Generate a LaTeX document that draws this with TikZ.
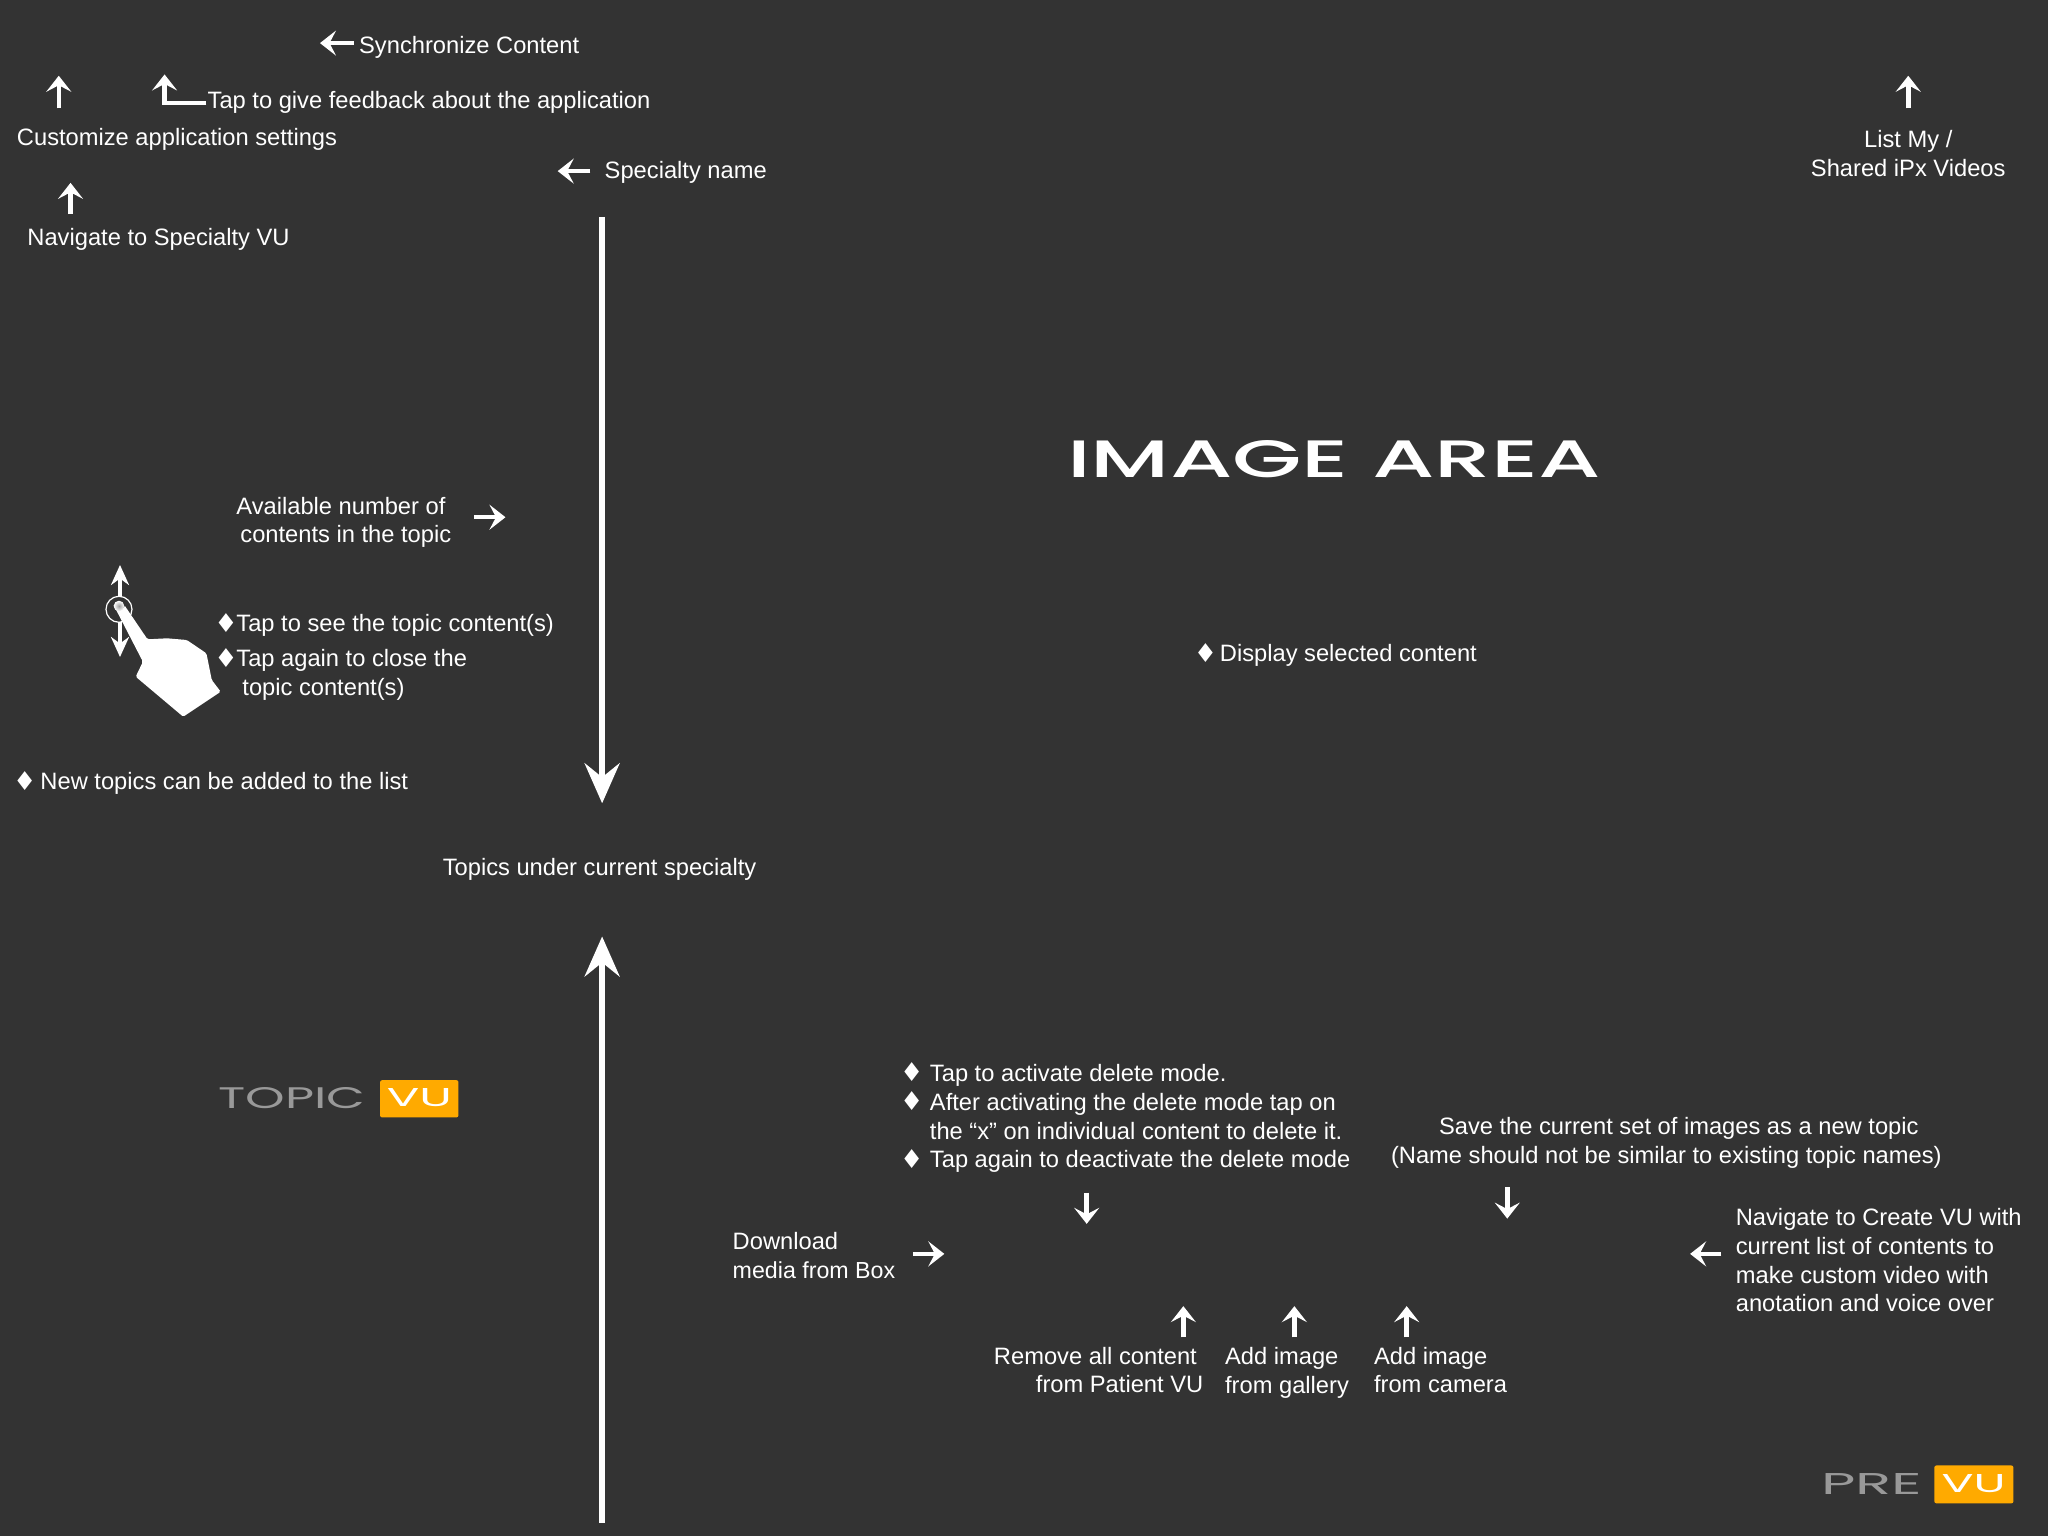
\documentclass[tikz,border=0pt]{standalone}
\usepackage{fontspec}
\usepackage{graphicx}
\usetikzlibrary{arrows.meta}
\setmainfont{Liberation Sans}
\newfontfamily\dejafont{DejaVu Sans}
\newfontfamily\logofont{Poppins Medium}
\newfontfamily\logolight{Poppins}
\definecolor{bgdark}{HTML}{333333}
\definecolor{logoorange}{HTML}{FFAA00}
\definecolor{logogray}{HTML}{999999}
\tikzset{
  txt/.style={text=white,inner sep=0pt,outer sep=0pt,anchor=west,align=left,font=\fontsize{23.7}{28.7}\selectfont},
  ctxt/.style={txt,anchor=center,align=center},
  dia/.style={text=white,inner sep=0pt,outer sep=0pt,anchor=center,font=\dejafont\fontsize{26}{26}\selectfont},
  arr/.style={draw=white,line width=4.5pt,-{Stealth[length=16pt,width=25pt,inset=6.5pt]}},
  bigarr/.style={draw=white,line width=5.5pt,-{Stealth[length=40pt,width=35pt,inset=14pt]}},
  logotxt/.style={inner sep=0pt,outer sep=0pt,anchor=center},
  badge/.style={fill=logoorange,rounded corners=2pt,draw=none}
}
\begin{document}
\begin{tikzpicture}[x=1.30612pt,y=-1.30612pt]
\useasboundingbox (0,0) rectangle (1568,1176);
\fill[bgdark] (0,0) rectangle (1568,1176);
% top labels
\node[txt] (sync) at (275,36) {Synchronize Content};
\node[txt] (feedback) at (159,78) {Tap to give feedback about the application};
\node[txt] (custom) at (13,106.5) {Customize application settings};
\node[txt] (specname) at (463,132) {Specialty name};
\node[txt] (navspec) at (21,183) {Navigate to Specialty VU};
\node[ctxt] (listmy) at (1461,117.5) {List My /\\Shared iPx Videos};
\node[txt] (avail) at (181,400) {Available number of\\\hspace*{4pt}contents in the topic};
\node[dia] (dtap1) at (173,477) {♦};
\node[txt] (tap1) at (181,478.5) {Tap to see the topic content(s)};
\node[dia] (dtap2) at (173,504) {♦};
\node[txt] (tap2) at (181,516.5) {Tap again to close the\\\hspace*{6pt}topic content(s)};
\node[dia] (dnew) at (19,598) {♦};
\node[txt] (newtop) at (31,600) {New topics can be added to the list};
\node[txt] (topics) at (339,665.5) {Topics under current specialty};
\node[dia] (ddisp) at (923,500) {♦};
\node[txt] (disp) at (934,501.5) {Display selected content};
% delete block
\node[dia] (dd1) at (698,821) {♦};
\node[dia] (dd2) at (698,843) {♦};
\node[dia] (dd3) at (698,887) {♦};
\node[txt] (del) at (712,856.5) {Tap to activate delete mode.\\After activating the delete mode tap on\\the “x” on individual content to delete it.\\Tap again to deactivate the delete mode};
\node[txt] (save) at (1065,875) {\hspace*{48pt}Save the current set of images as a new topic\\(Name should not be similar to existing topic names)};
\node[txt] (download) at (561,961.5) {Download\\\fontsize{23.2}{28}\selectfont media from Box};
\node[txt] (create) at (1329,965) {Navigate to Create VU with\\current list of contents to\\make custom video with\\anotation and voice over};
\node[txt] (remove) at (761,1049) {Remove all content\\\hspace*{42pt}from Patient VU};
\node[txt] (gallery) at (938,1051) {Add image\\from gallery};
\node[txt] (camera) at (1052,1049) {Add image\\from camera};
% image area and logos
\node[logotxt,text=white] (imgarea) at (1021.5,351.5) {\resizebox{534pt}{37pt}{\logofont IMAGE AREA}};
\node[logotxt,text=logogray] (topic) at (223.5,840.5) {\resizebox{147pt}{21pt}{\logolight TOPIC}};
\path[badge] (291,827) rectangle (351,855.5);
\node[logotxt,text=white] (vua) at (321,840.5) {\resizebox{65pt}{18pt}{\logolight VU}};
\node[logotxt,text=logogray] (pre) at (1433,1136) {\resizebox{101pt}{21pt}{\logolight PRE}};
\path[badge] (1481,1122) rectangle (1541.5,1151);
\node[logotxt,text=white] (vub) at (1511,1136) {\resizebox{64pt}{18pt}{\logolight VU}};
% arrow coordinates
\coordinate (a1s) at (271,33); \coordinate (a1e) at (245,33);
\coordinate (a2s) at (45,83); \coordinate (a2e) at (45,58);
\coordinate (a3s) at (158,79); \coordinate (a3m) at (126,79); \coordinate (a3e) at (126,57);
\coordinate (a4s) at (54,164); \coordinate (a4e) at (54,140);
\coordinate (a5s) at (452,131); \coordinate (a5e) at (427,131);
\coordinate (a6s) at (461,166); \coordinate (a6e) at (461,615);
\coordinate (a7s) at (461,1166); \coordinate (a7e) at (461,717);
\coordinate (a8s) at (363,396); \coordinate (a8e) at (387,396);
\coordinate (a9s) at (1461,83); \coordinate (a9e) at (1461,58);
\coordinate (a10s) at (832,913); \coordinate (a10e) at (832,937);
\coordinate (a11s) at (1154,909); \coordinate (a11e) at (1154,933);
\coordinate (a12s) at (699,960); \coordinate (a12e) at (723,960);
\coordinate (a13s) at (1318,960); \coordinate (a13e) at (1294,960);
\coordinate (a14s) at (906,1024); \coordinate (a14e) at (906,1000);
\coordinate (a15s) at (991,1024); \coordinate (a15e) at (991,1000);
\coordinate (a16s) at (1077,1024); \coordinate (a16e) at (1077,1000);
\draw[arr] (a1s) -- (a1e);
\draw[arr] (a2s) -- (a2e);
\draw[arr] (a3s) -- (a3m) -- (a3e);
\draw[arr] (a4s) -- (a4e);
\draw[arr] (a5s) -- (a5e);
\draw[bigarr] (a6s) -- (a6e);
\draw[bigarr] (a7s) -- (a7e);
\draw[arr] (a8s) -- (a8e);
\draw[arr] (a9s) -- (a9e);
\draw[arr] (a10s) -- (a10e);
\draw[arr] (a11s) -- (a11e);
\draw[arr] (a12s) -- (a12e);
\draw[arr] (a13s) -- (a13e);
\draw[arr] (a14s) -- (a14e);
\draw[arr] (a15s) -- (a15e);
\draw[arr] (a16s) -- (a16e);
% tap gesture
\begin{scope}[x=1pt,y=-1pt]
\coordinate (gt) at (120,565); \coordinate (gb) at (120,657);
\draw[white,line width=4pt,{Stealth[length=20pt,width=18pt]}-{Stealth[length=20pt,width=18pt]}] (gt) -- (gb);
\fill[bgdark] (119,609.3) circle (13);
\draw[white,line width=1.2pt] (119,609.3) circle (13);
\fill[white,rounded corners=1.5pt] (113.6,605) -- (142.9,661.7) -- (135.7,676.7) -- (183.2,716.7) -- (220.7,691.7) -- (211.8,680) -- (206.4,653.3) -- (186.8,640) -- (167.1,638.3) -- (147.5,639.3) -- (124.3,605) [sharp corners] arc (0:180:5.35) -- cycle;
\shade[inner color=gray!75!white,outer color=white] (119,606) circle (5.3);
\end{scope}
\end{tikzpicture}
\end{document}
